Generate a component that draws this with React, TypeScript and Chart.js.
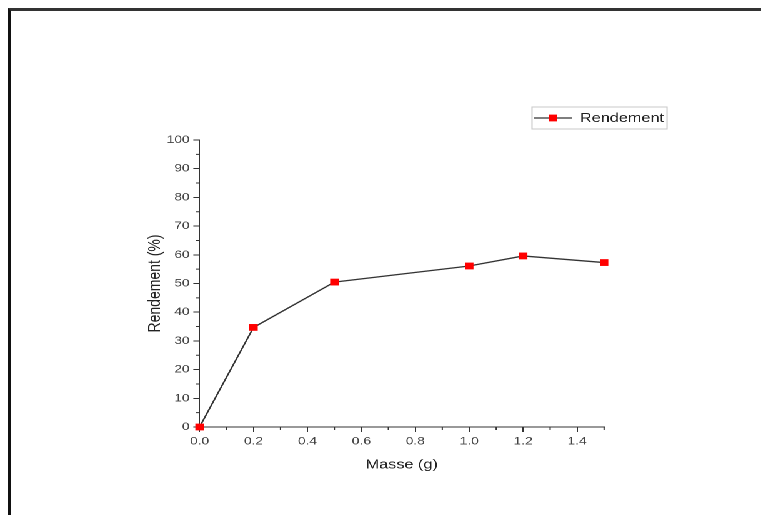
import React, { useEffect, useRef } from "react";
import { Chart, registerables } from "chart.js";

Chart.register(...registerables);

// ---- data ----
const masse = [0, 0.2, 0.5, 1.0, 1.2, 1.5];
const rendement = [0, 34.7, 50.5, 56.1, 59.6, 57.3];
const seriesLabel = "Rendement";
const xTitle = "Masse (g)";
const yTitle = "Rendement (%)";
const xMinorTicks = [0.1, 0.3, 0.5, 0.7, 0.9, 1.1, 1.3, 1.5];
const yMinorTicks = [5, 15, 25, 35, 45, 55, 65, 75, 85, 95];

// ---- layout (the original figure is stretched horizontally) ----
const PAGE_W = 761;
const PAGE_H = 515;
const INNER_W = 609;
const SX = PAGE_W / INNER_W;

const AXIS = "#333";
const TICK_TEXT = "#444";
const FONT = "'Liberation Sans', Arial, Helvetica, sans-serif";

const extras = {
  id: "extras",
  afterDraw(chart: any) {
    const { ctx, chartArea } = chart;
    const x = chart.scales.x;
    const y = chart.scales.y;
    ctx.save();
    ctx.strokeStyle = AXIS;
    ctx.lineWidth = 1;
    ctx.beginPath();
    for (const v of xMinorTicks) {
      const px = x.getPixelForValue(v);
      ctx.moveTo(px, chartArea.bottom);
      ctx.lineTo(px, chartArea.bottom + 3);
    }
    for (const v of yMinorTicks) {
      const py = y.getPixelForValue(v);
      ctx.moveTo(chartArea.left - 3, py);
      ctx.lineTo(chartArea.left, py);
    }
    ctx.stroke();

    // legend
    const bx = 532 / SX;
    const bw = (667 - 532) / SX;
    const by = 107;
    const bh = 22;
    ctx.strokeStyle = "#c8c8c8";
    ctx.lineWidth = 1;
    ctx.strokeRect(bx, by, bw, bh);
    const ly = by + bh / 2;
    ctx.strokeStyle = "#333";
    ctx.lineWidth = 1.3;
    ctx.beginPath();
    ctx.moveTo(534 / SX, ly);
    ctx.lineTo(572 / SX, ly);
    ctx.stroke();
    const mx = 553 / SX;
    ctx.fillStyle = "#ff0000";
    ctx.fillRect(mx - 3.4, ly - 3.4, 6.8, 6.8);
    ctx.fillStyle = "#222";
    ctx.font = `13px ${FONT}`;
    ctx.textBaseline = "middle";
    ctx.textAlign = "left";
    ctx.fillText(seriesLabel, 580 / SX, ly + 0.5);
    ctx.restore();
  },
};

export default function App() {
  const ref = useRef<HTMLCanvasElement | null>(null);

  useEffect(() => {
    if (!ref.current) return;
    Chart.defaults.font.family = FONT;
    const chart = new Chart(ref.current, {
      type: "line",
      data: {
        datasets: [
          {
            label: seriesLabel,
            data: masse.map((m, i) => ({ x: m, y: rendement[i] })),
            borderColor: "#333",
            borderWidth: 1.3,
            pointStyle: "rect",
            pointRadius: 4.8,
            pointBorderWidth: 0,
            pointBackgroundColor: "#ff0000",
            pointBorderColor: "#ff0000",
            tension: 0,
            clip: false as any,
          },
        ],
      },
      options: {
        animation: false,
        responsive: true,
        maintainAspectRatio: false,
        devicePixelRatio: 2,
        layout: { padding: { left: 111.7, right: 125.6, top: 140, bottom: 38.2 } },
        plugins: { legend: { display: false }, tooltip: { enabled: false } },
        scales: {
          x: {
            type: "linear",
            min: 0,
            max: 1.5,
            ticks: {
              stepSize: 0.2,
              includeBounds: false,
              autoSkip: false,
              maxRotation: 0,
              padding: 3,
              color: TICK_TEXT,
              font: { size: 11 },
              callback: (v: any) => Number(v).toFixed(1),
            },
            grid: {
              display: true,
              drawOnChartArea: false,
              drawTicks: true,
              tickLength: 5,
              tickColor: AXIS,
              tickWidth: 1,
            },
            border: { display: true, color: AXIS, width: 1 },
            title: {
              display: true,
              text: xTitle,
              color: "#222",
              font: { size: 13 },
              padding: { top: 4, bottom: 4 },
            },
            afterFit: (s: any) => {
              s.height = 49.8;
              s.paddingLeft = 0;
              s.paddingRight = 0;
              s.paddingTop = 0;
              s.paddingBottom = 0;
            },
          },
          y: {
            type: "linear",
            min: 0,
            max: 100,
            ticks: {
              stepSize: 10,
              padding: 3,
              color: TICK_TEXT,
              font: { size: 11 },
            },
            grid: {
              display: true,
              drawOnChartArea: false,
              drawTicks: true,
              tickLength: 5,
              tickColor: AXIS,
              tickWidth: 1,
            },
            border: { display: true, color: AXIS, width: 1 },
            title: {
              display: true,
              text: yTitle,
              color: "#222",
              font: { size: 14 },
              padding: { top: 4, bottom: 4 },
            },
            afterFit: (s: any) => {
              s.width = 48;
              s.paddingLeft = 0;
              s.paddingRight = 0;
              s.paddingTop = 0;
              s.paddingBottom = 0;
            },
          },
        },
      },
      plugins: [extras],
    });
    return () => chart.destroy();
  }, []);

  return (
    <>
      <div
        style={{
          position: "fixed",
          left: 0,
          top: 0,
          width: INNER_W,
          height: PAGE_H,
          transform: `scaleX(${SX})`,
          transformOrigin: "0 0",
          background: "#fff",
        }}
      >
        <canvas ref={ref} />
      </div>
      <div
        style={{
          position: "fixed",
          left: 8,
          top: 8,
          width: PAGE_W - 8,
          height: PAGE_H - 8,
          boxSizing: "border-box",
          borderTop: "3px solid #333",
          borderLeft: "3px solid #111",
          pointerEvents: "none",
        }}
      />
    </>
  );
}
